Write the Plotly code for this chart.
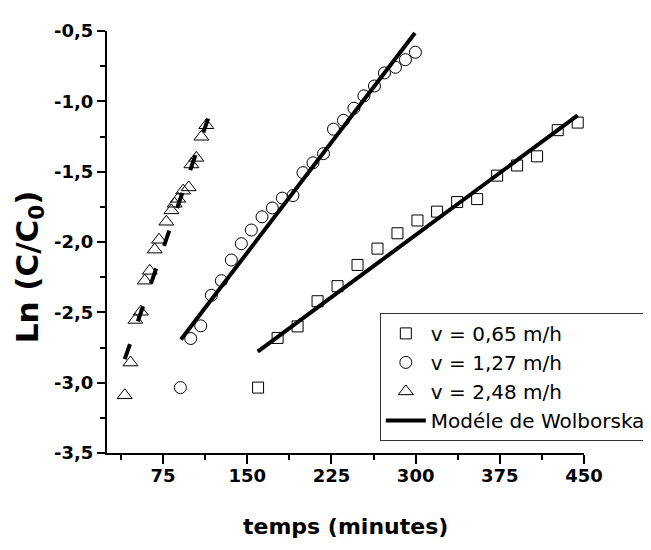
import plotly.graph_objects as go

# ---- data ----
t_065 = [159.6, 177.0, 194.8, 212.6, 230.4, 248.2, 266.0, 283.8, 301.6, 319.1,
         337.0, 354.8, 372.6, 390.4, 408.2, 426.6, 444.4]
ln_065 = [-3.035, -2.682, -2.600, -2.421, -2.314, -2.163, -2.047, -1.938, -1.847,
          -1.784, -1.716, -1.695, -1.528, -1.456, -1.391, -1.205, -1.151]

t_127 = [90.4, 99.6, 108.5, 118.0, 126.9, 135.8, 144.7, 153.6, 163.1, 172.3, 181.2,
         190.7, 199.6, 208.5, 217.9, 226.8, 235.7, 245.0, 253.9, 263.3, 272.2, 282.0,
         290.9, 299.8]
ln_127 = [-3.035, -2.686, -2.596, -2.379, -2.275, -2.128, -2.012, -1.915, -1.821,
          -1.758, -1.688, -1.670, -1.507, -1.437, -1.372, -1.198, -1.135, -1.049,
          -0.961, -0.891, -0.798, -0.758, -0.704, -0.651]

t_248 = [40.8, 45.9, 50.3, 55.1, 58.6, 63.1, 67.5, 71.4, 77.9, 82.4, 85.3, 88.4,
         92.8, 97.8, 100.2, 104.6, 109.1, 113.5]
ln_248 = [-3.089, -2.857, -2.554, -2.496, -2.275, -2.205, -2.054, -1.984, -1.856,
          -1.775, -1.728, -1.693, -1.635, -1.612, -1.449, -1.402, -1.252, -1.170]

# Wolborska model lines
model_065_t = [159.3, 444.4]
model_065_ln = [-2.779, -1.100]
model_127_t = [90.9, 299.4]
model_127_ln = [-2.693, -0.514]
model_248_t = [40.8, 115.1]
model_248_ln = [-2.833, -1.123]

y_tickvals = [-3.5, -3.0, -2.5, -2.0, -1.5, -1.0, -0.5]
y_ticktext = ["-3,5", "-3,0", "-2,5", "-2,0", "-1,5", "-1,0", "-0,5"]
y_minorvals = [-3.25, -2.75, -2.25, -1.75, -1.25, -0.75]

names = ["v = 0,65 m/h", "v = 1,27 m/h", "v = 2,48 m/h", "Modéle de Wolborska"]

fig = go.Figure()

fig.add_trace(go.Scatter(x=t_065, y=ln_065, mode="markers", name=names[0],
                         marker=dict(symbol="square-open", size=11, color="black",
                                     line=dict(width=1, color="black"))))
fig.add_trace(go.Scatter(x=t_127, y=ln_127, mode="markers", name=names[1],
                         marker=dict(symbol="circle-open", size=12, color="black",
                                     line=dict(width=1, color="black"))))
fig.add_trace(go.Scatter(x=t_248, y=ln_248, mode="markers", name=names[2],
                         marker=dict(symbol="triangle-up-open", size=13, color="black",
                                     line=dict(width=1, color="black"))))
fig.add_trace(go.Scatter(x=model_065_t, y=model_065_ln, mode="lines", name=names[3],
                         line=dict(color="black", width=4)))
fig.add_trace(go.Scatter(x=model_127_t, y=model_127_ln, mode="lines", showlegend=False,
                         line=dict(color="black", width=4)))
fig.add_trace(go.Scatter(x=model_248_t, y=model_248_ln, mode="lines", showlegend=False,
                         line=dict(color="black", width=4, dash="16px,24px")))

bold = dict(family="DejaVu Sans", size=18, color="black", weight="bold")

fig.update_layout(
    width=700, height=542, autosize=False,
    margin=dict(l=99, r=124, t=15, b=97),
    paper_bgcolor="white", plot_bgcolor="white",
    showlegend=True,
    legend=dict(x=0.572, y=0.332, xanchor="left", yanchor="top",
                bgcolor="white", bordercolor="#333", borderwidth=1,
                font=dict(family="DejaVu Sans", size=20, color="black"),
                tracegroupgap=0, itemwidth=40),
    xaxis=dict(range=[25, 450], tickmode="linear", tick0=0, dtick=75,
               showline=True, linecolor="black", linewidth=2, showgrid=False,
               zeroline=False, ticks="outside", ticklen=9, tickwidth=2,
               tickcolor="black", tickfont=bold, ticklabelstandoff=-4,
               minor=dict(tickmode="linear", tick0=0, dtick=37.5, ticks="outside",
                          ticklen=5, tickwidth=2, tickcolor="black", showgrid=False)),
    yaxis=dict(range=[-3.5, -0.5], tickmode="array", tickvals=y_tickvals,
               ticktext=y_ticktext,
               showline=True, linecolor="black", linewidth=2, showgrid=False,
               zeroline=False, ticks="outside", ticklen=8, tickwidth=2,
               tickcolor="black", tickfont=bold,
               minor=dict(tickmode="array", tickvals=y_minorvals, ticks="outside",
                          ticklen=5, tickwidth=2, tickcolor="black", showgrid=False)),
    annotations=[
        dict(text="temps (minutes)", xref="paper", yref="paper", x=0.5, y=-0.1744,
             xanchor="center", yanchor="middle", showarrow=False,
             font=dict(family="DejaVu Sans", size=22, color="black", weight="bold")),
        dict(text="Ln (C/C<sub>0</sub>)", xref="paper", yref="y", x=-0.1635, y=-2.18,
             xanchor="center", yanchor="middle", showarrow=False, textangle=-90,
             font=dict(family="DejaVu Sans", size=31, color="black", weight="bold")),
    ],
)

fig.write_html("out.html")
